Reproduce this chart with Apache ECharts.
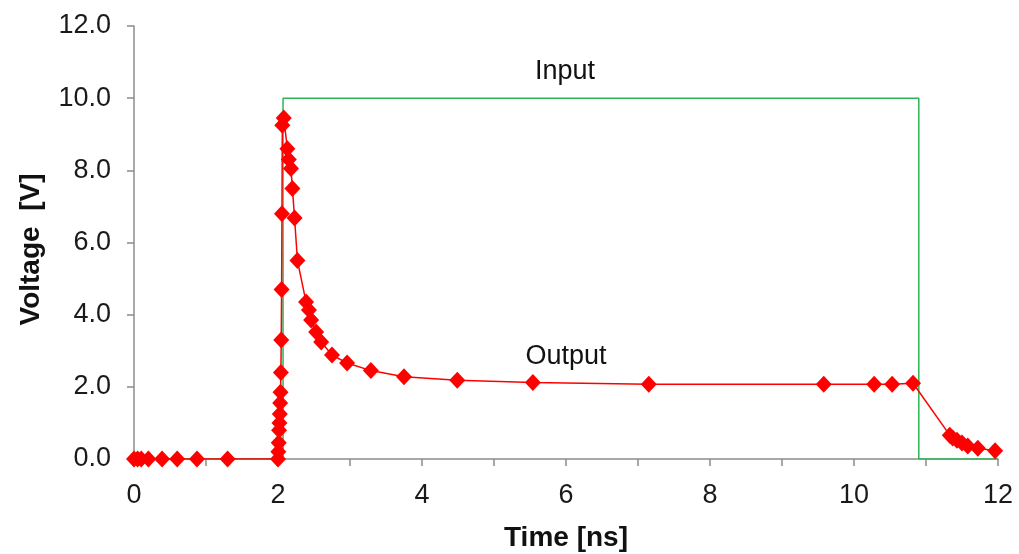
<!DOCTYPE html>
<html>
<head>
<meta charset="utf-8">
<script src="https://cdn.jsdelivr.net/npm/echarts@6/dist/echarts.min.js"></script>
<style>html,body{margin:0;padding:0;background:#fff}#c{width:1019px;height:554px}</style>
</head>
<body>
<div id="c"></div>
<script>
// Input pulse (time ns, voltage V)
const inputTime = [0, 2.07, 2.07, 10.9, 10.9, 12];
const inputVolt = [0, 0, 10, 10, 0, 0];
// Output waveform
const outputTime = [0, 0.05, 0.1, 0.2, 0.39, 0.6, 0.875, 1.3, 2.0,
  2.005, 2.01, 2.015, 2.02, 2.025, 2.03, 2.035, 2.04, 2.045, 2.05, 2.055, 2.06, 2.08,
  2.13, 2.15, 2.18, 2.2, 2.23, 2.27, 2.39, 2.43, 2.46, 2.53, 2.6, 2.75, 2.96, 3.29,
  3.75, 4.49, 5.54, 7.15, 9.58, 10.28, 10.53, 10.82,
  11.33, 11.37, 11.43, 11.5, 11.58, 11.72, 11.96];
const outputVolt = [0, 0, 0, 0, 0, 0, 0, 0, 0,
  0.2, 0.45, 0.8, 1.0, 1.25, 1.55, 1.85, 2.4, 3.3, 4.7, 6.8, 9.25, 9.45,
  8.6, 8.3, 8.05, 7.5, 6.68, 5.5, 4.35, 4.13, 3.85, 3.52, 3.24, 2.88, 2.66, 2.45,
  2.28, 2.18, 2.12, 2.07, 2.07, 2.07, 2.07, 2.1,
  0.66, 0.58, 0.52, 0.44, 0.36, 0.3, 0.23];
const xTicks = [0, 2, 4, 6, 8, 10, 12];
const seriesNames = ['Input', 'Output'];

const chart = echarts.init(document.getElementById('c'), null, {renderer: 'canvas'});
const font = 'Liberation Sans, Arial, sans-serif';
const axisColor = '#8c8c8c';
chart.setOption({
  animation: false,
  backgroundColor: '#fff',
  grid: {left: 134, right: 21, top: 26, bottom: 95, containLabel: false, outerBoundsMode: 'none'},
  xAxis: {
    type: 'value', min: 0, max: 12, interval: 1,
    name: 'Time [ns]', nameLocation: 'middle', nameGap: 65,
    nameTextStyle: {fontFamily: font, fontSize: 28, fontWeight: 'bold', color: '#111'},
    axisLine: {lineStyle: {color: axisColor, width: 1.5}},
    axisTick: {show: true, length: 7, lineStyle: {color: axisColor, width: 1.5}},
    splitLine: {show: false},
    axisLabel: {fontFamily: font, fontSize: 27, color: '#1a1a1a', margin: 23,
      formatter: v => xTicks.indexOf(v) >= 0 ? String(v) : ''}
  },
  yAxis: {
    type: 'value', min: 0, max: 12, interval: 2,
    name: 'Voltage  [V]', nameLocation: 'middle', nameGap: 89, nameRotate: 90,
    nameTextStyle: {fontFamily: font, fontSize: 28, fontWeight: 'bold', color: '#111', padding: [0, 14, 0, 0]},
    axisLine: {show: true, lineStyle: {color: axisColor, width: 1.5}},
    axisTick: {show: true, length: 7, lineStyle: {color: axisColor, width: 1.5}},
    splitLine: {show: false},
    axisLabel: {fontFamily: font, fontSize: 27, color: '#1a1a1a', margin: 23,
      formatter: v => v.toFixed(1)}
  },
  series: [
    {
      name: seriesNames[0], type: 'line', symbol: 'none',
      data: inputTime.map((t, i) => [t, inputVolt[i]]),
      lineStyle: {color: '#2db457', width: 1.5}, z: 2
    },
    {
      name: seriesNames[1], type: 'line', symbol: 'diamond', symbolSize: [16, 17],
      data: outputTime.map((t, i) => [t, outputVolt[i]]),
      itemStyle: {color: '#ff0000'},
      lineStyle: {color: '#ff0000', width: 1.5}, z: 3
    }
  ],
  graphic: [
    {type: 'text', x: 565, y: 72, style: {text: seriesNames[0], fontFamily: font, fontSize: 27, fill: '#111', align: 'center', verticalAlign: 'middle'}},
    {type: 'text', x: 566, y: 357, style: {text: seriesNames[1], fontFamily: font, fontSize: 27, fill: '#111', align: 'center', verticalAlign: 'middle'}}
  ]
});
</script>
</body>
</html>
